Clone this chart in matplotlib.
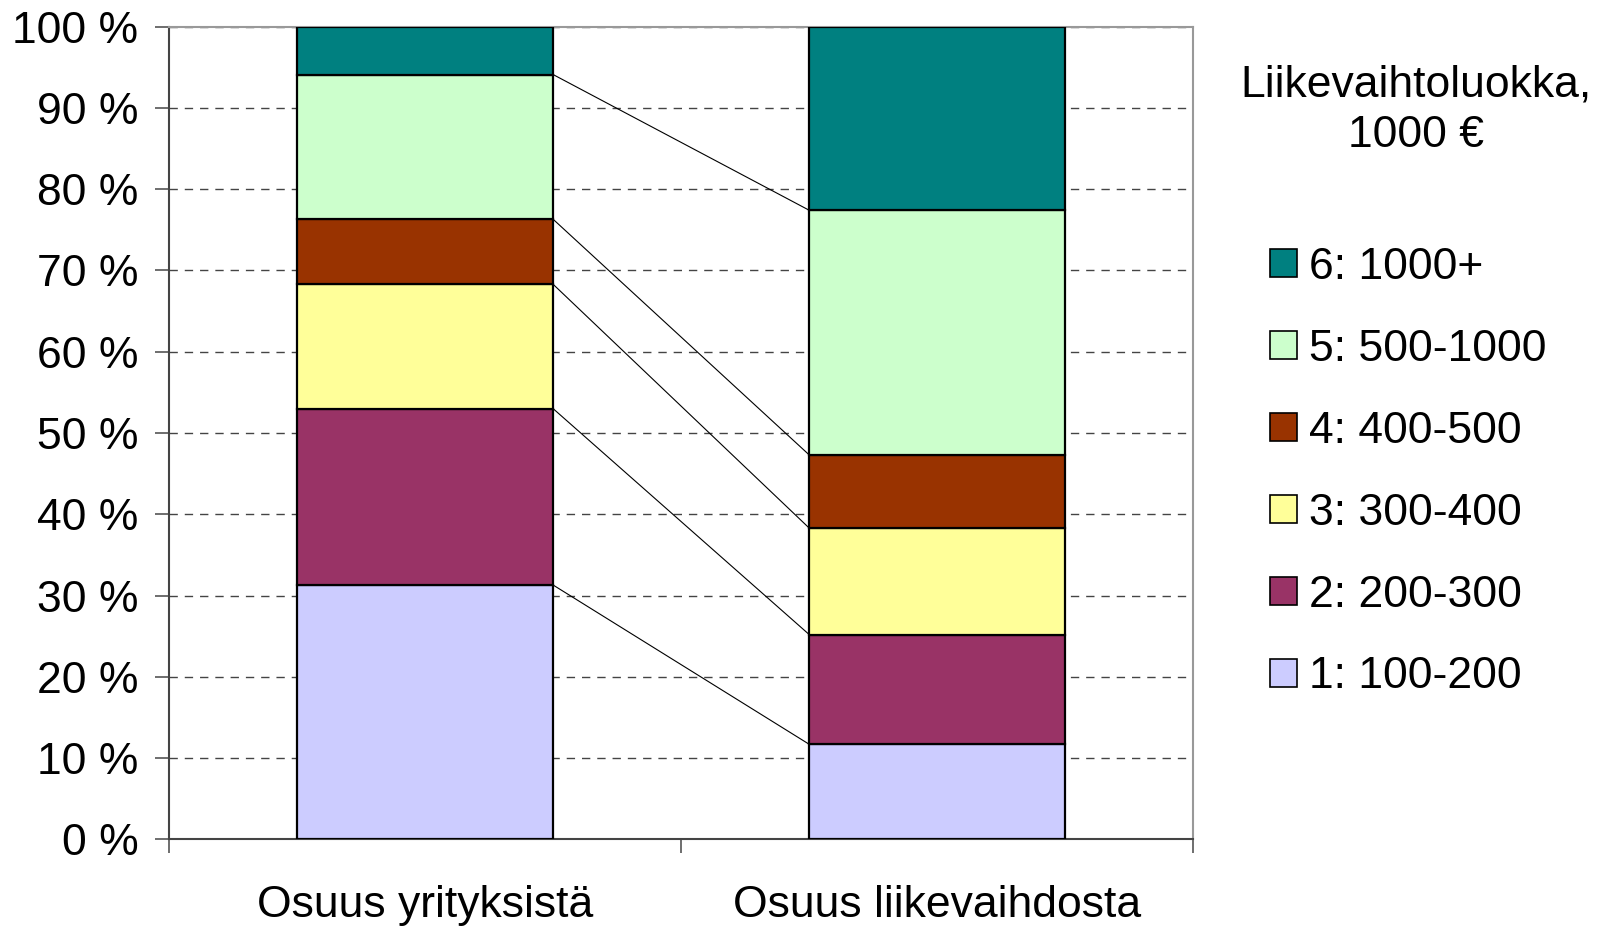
import matplotlib
matplotlib.use("Agg")
import matplotlib.pyplot as plt
from matplotlib.patches import Patch
import numpy as np

plt.rcParams["font.family"] = ["Liberation Sans", "DejaVu Sans"]

# ─── DATA ────────────────────────────────────────────────────────────────
categories = ["Osuus yrityksistä", "Osuus liikevaihdosta"]
classes = ["1: 100-200", "2: 200-300", "3: 300-400",
           "4: 400-500", "5: 500-1000", "6: 1000+"]
share_firms = [31.3, 21.7, 15.3, 8.0, 17.8, 5.9]
share_turnover = [11.7, 13.5, 13.1, 9.0, 30.1, 22.6]
class_colors = ["#CCCCFF", "#993366", "#FFFF99", "#993300", "#CCFFCC", "#008080"]
legend_title = "Liikevaihtoluokka,\n1000 €"

FS = 32
BAR_W = 0.5

fig = plt.figure(figsize=(16.05, 9.26), dpi=100)
ax = fig.add_axes([0.1052, 0.0935, 0.7436 - 0.1052, 0.9713 - 0.0935])

values = np.array([share_firms, share_turnover])  # shape (2, 6)
x = np.arange(len(categories))
bottoms = np.zeros(len(categories))
for i, name in enumerate(classes):
    ax.bar(x, values[:, i], bottom=bottoms, width=BAR_W,
           color=class_colors[i], edgecolor="black", linewidth=1.6,
           zorder=3)
    bottoms += values[:, i]

# connector lines between series boundaries
cum = np.cumsum(values, axis=1)
for j in range(len(classes) - 1):
    ax.plot([x[0] + BAR_W / 2, x[1] - BAR_W / 2], [cum[0, j], cum[1, j]],
            color="black", linewidth=0.8, zorder=2)

ax.set_xlim(-0.5, 1.5)
ax.set_ylim(0, 100)

ax.set_yticks(np.arange(0, 101, 10))
ax.set_yticklabels([f"{v} %" for v in range(0, 101, 10)], fontsize=FS)
ax.tick_params(axis="y", direction="out", length=10, width=1.2,
               color="#555555", pad=12)

ax.set_xticks(x)
ax.set_xticklabels(categories, fontsize=FS)
ax.tick_params(axis="x", which="major", length=0, pad=32.5)
ax.set_xticks([-0.5, 0.5, 1.5], minor=True)
ax.tick_params(axis="x", which="minor", direction="out", length=10,
               width=1.2, color="#555555")

ax.yaxis.grid(True, linestyle=(0, (6, 5)), color="#444444", linewidth=1.0,
              zorder=1)
for s in ["left", "bottom"]:
    ax.spines[s].set_color("#444444")
    ax.spines[s].set_linewidth(1.5)
for s in ["top", "right"]:
    ax.spines[s].set_color("#999999")
    ax.spines[s].set_linewidth(1.5)

# legend (top class first)
handles = [Patch(facecolor=class_colors[i], edgecolor="black", linewidth=1.2)
           for i in reversed(range(len(classes)))]
labels = list(reversed(classes))
fig.legend(handles, labels, loc="upper left",
           bbox_to_anchor=(1270 / 1605, 1 - 247 / 926),
           frameon=False, fontsize=FS, handlelength=0.6, handleheight=0.6,
           handletextpad=0.28, labelspacing=0.92, borderpad=0,
           borderaxespad=0)
fig.text(1416 / 1605, 1 - 110 / 926, legend_title, fontsize=FS,
         ha="center", va="center", linespacing=1.31)

fig.savefig("out.png", dpi=100)
plt.close(fig)
